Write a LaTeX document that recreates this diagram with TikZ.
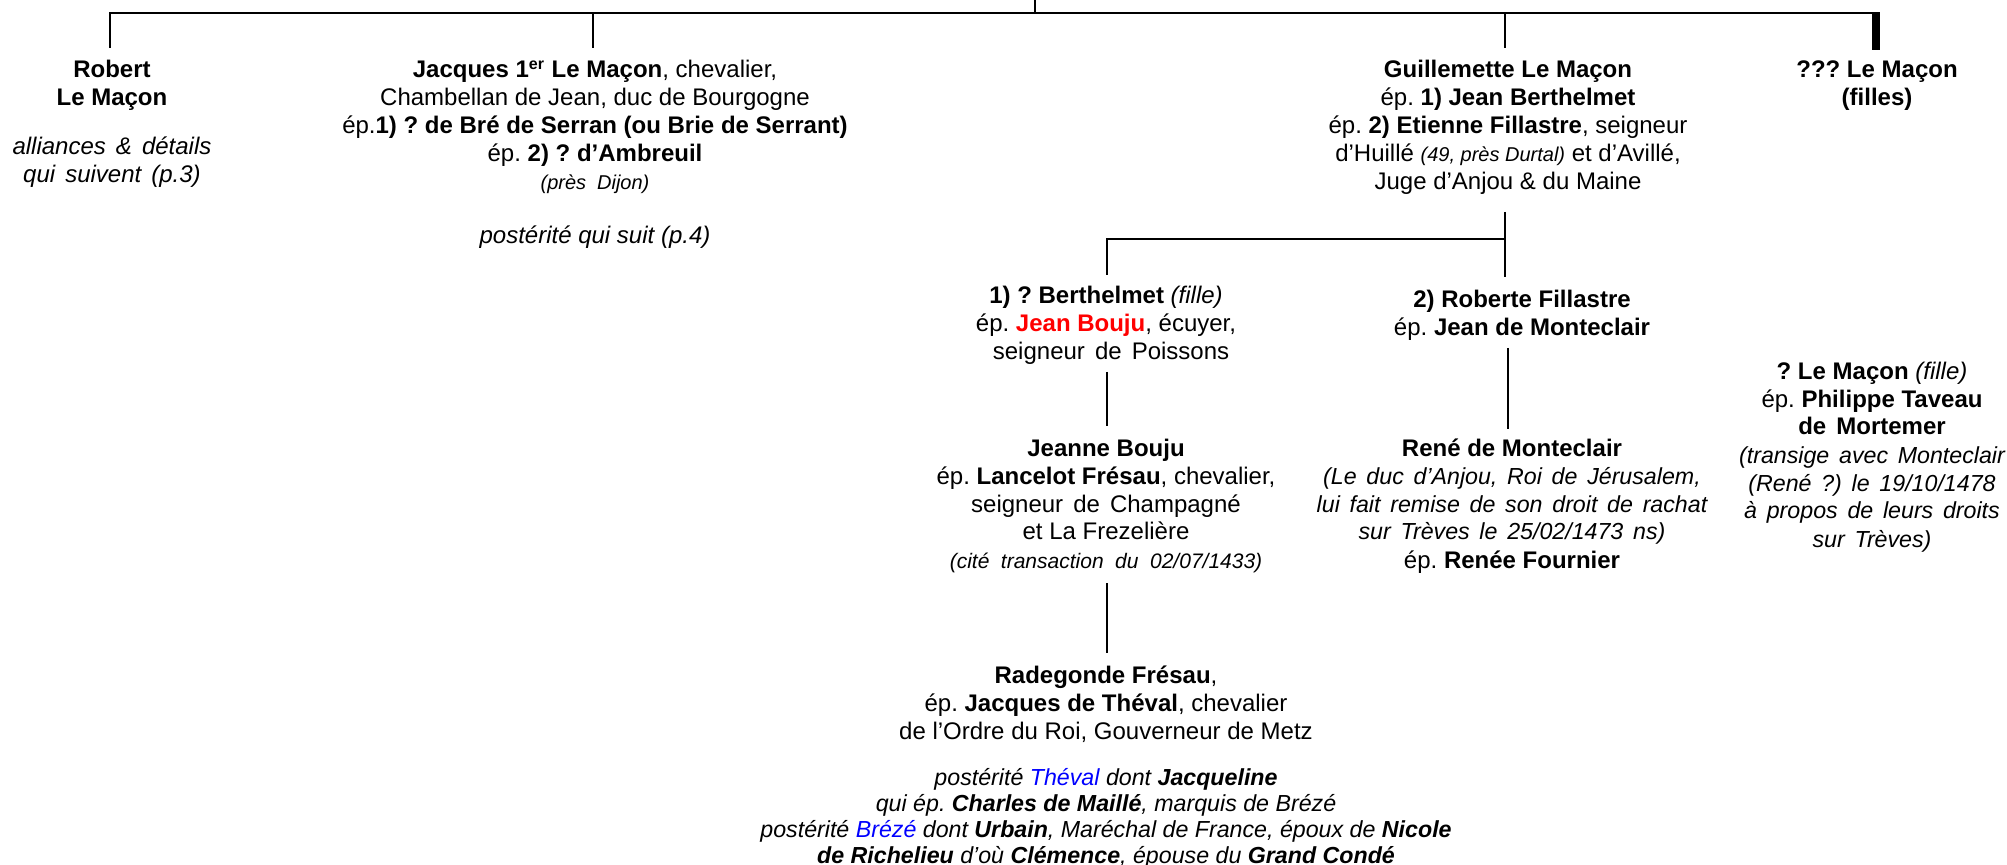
\documentclass[tikz,border=0pt]{standalone}
\usepackage{fontspec}
\setmainfont{Liberation Sans}
\frenchspacing
\definecolor{lmred}{RGB}{255,0,0}
\definecolor{lmblue}{RGB}{0,0,255}
\newcommand\smit{\fontsize{10pt}{14pt}\selectfont\itshape}
\newcommand\cit{\fontsize{10.5pt}{14pt}\selectfont\itshape}
\newcommand\nit{\fontsize{11.6pt}{14pt}\selectfont\itshape}
\newcommand\ws{\spaceskip=0.42em plus 0.1em\relax}
\newcommand\wws{\spaceskip=0.55em plus 0.1em\relax}
\begin{document}
\begin{tikzpicture}[x=0.5pt,y=-0.5pt,
  txt/.style={align=center, inner sep=0pt, anchor=north, font=\fontsize{12pt}{14pt}\selectfont},
  post/.style={align=center, inner sep=0pt, anchor=north, font=\fontsize{11.6pt}{13pt}\selectfont\itshape},
  conn/.style={draw=black, line width=1.25pt}]
\useasboundingbox (0,0) rectangle (2007,865);

% nodes
\node[txt] (robert) at (112,58) {\strut\textbf{Robert}\\\textbf{Le Maçon}};
\node[txt] (robertnote) at (112,135) {\strut{\ws\textit{alliances \& détails}}\\{\ws\textit{qui suivent (p.3)}}};
\node[txt] (jacques) at (595,58) {\strut\textbf{Jacques 1\textsuperscript{er} Le Maçon}, chevalier,\\
  Chambellan de Jean, duc de Bourgogne\\
  ép.\textbf{1) ? de Bré de Serran (ou Brie de Serrant)}\\
  ép. \textbf{2) ? d’Ambreuil}\\
  {\smit\wws (près Dijon)}};
\node[txt] (jacquesnote) at (595,224) {\strut\textit{postérité qui suit (p.4)}};
\node[txt] (guil) at (1508,58) {\strut\textbf{Guillemette Le Maçon}\\
  ép. \textbf{1) Jean Berthelmet}\\
  ép. \textbf{2) Etienne Fillastre}, seigneur\\
  d’Huillé {\smit (49, près Durtal)} et d’Avillé,\\
  Juge d’Anjou \& du Maine};
\node[txt] (filles) at (1877,58) {\strut\textbf{??? Le Maçon}\\\textbf{(filles)}};
\node[txt] (berth) at (1106,284) {\strut\textbf{1) ? Berthelmet} \textit{(fille)}\\
  ép. \textcolor{lmred}{\textbf{Jean Bouju}}, écuyer,\\
  {\ws\ seigneur de Poissons}};
\node[txt] (roberte) at (1522,288) {\strut\textbf{2) Roberte Fillastre}\\
  ép. \textbf{Jean de Monteclair}};
\node[txt] (jeanne) at (1106,436) {\strut\textbf{Jeanne Bouju}\\
  ép. \textbf{Lancelot Frésau}, chevalier,\\
  {\ws seigneur de Champagné}\\
  et La Frezelière\\
  {\cit\wws (cité transaction du 02/07/1433)}};
\node[txt] (rene) at (1512,436) {\strut\textbf{René de Monteclair}\\
  {\nit\ws (Le duc d’Anjou, Roi de Jérusalem,}\\
  {\nit\ws lui fait remise de son droit de rachat}\\
  {\nit\ws sur Trèves le 25/02/1473 ns)}\\
  ép. \textbf{Renée Fournier}};
\node[txt] (fille) at (1872,359) {\strut\textbf{? Le Maçon} \textit{(fille)}\\
  ép. \textbf{Philippe Taveau}\\
  {\ws\textbf{de Mortemer}}\\
  {\nit\ws (transige avec Monteclair}\\
  {\nit\ws (René ?) le 19/10/1478}\\
  {\nit\ws à propos de leurs droits}\\
  {\nit\ws sur Trèves)}};
\node[txt] (radeg) at (1106,663) {\strut\textbf{Radegonde Frésau},\\
  ép. \textbf{Jacques de Théval}, chevalier\\
  de l’Ordre du Roi, Gouverneur de Metz};
\node[post] (poster) at (1106,767) {\strut postérité \textcolor{lmblue}{Théval} dont \textbf{Jacqueline}\\
  qui ép. \textbf{Charles de Maillé}, marquis de Brézé\\
  postérité \textcolor{lmblue}{Brézé} dont \textbf{Urbain}, Maréchal de France, époux de \textbf{Nicole}\\
  \textbf{de Richelieu} d’où \textbf{Clémence}, épouse du \textbf{Grand Condé}};

% coordinates
\coordinate (root) at (1035,0);
\coordinate (bar) at (1035,13);
\coordinate (barL) at (110,13);
\coordinate (barR) at (1876,13);
\coordinate (dRobert) at (110,48);
\coordinate (uJacques) at (593,13);
\coordinate (dJacques) at (593,48);
\coordinate (uGuil) at (1505,13);
\coordinate (dGuil) at (1505,48);
\coordinate (gTop) at (1505,212);
\coordinate (gJoin) at (1505,239);
\coordinate (gBot) at (1505,277);
\coordinate (bJoin) at (1107,239);
\coordinate (bBot) at (1107,275);
\coordinate (jTop) at (1107,372);
\coordinate (jBot) at (1107,426);
\coordinate (rTop) at (1107,583);
\coordinate (rBot) at (1107,653);
\coordinate (mTop) at (1508,348);
\coordinate (mBot) at (1508,429);

% connectors
\draw[conn] (root) -- (bar);
\draw[conn] (dRobert) -- (barL) -- (barR);
\draw[conn] (uJacques) -- (dJacques);
\draw[conn] (uGuil) -- (dGuil);
\fill[black] (1872,12.4) rectangle (1880,50);
\draw[conn] (gTop) -- (gBot);
\draw[conn] (bBot) -- (bJoin) -- (gJoin);
\draw[conn] (jTop) -- (jBot);
\draw[conn] (rTop) -- (rBot);
\draw[conn] (mTop) -- (mBot);
\end{tikzpicture}
\end{document}
